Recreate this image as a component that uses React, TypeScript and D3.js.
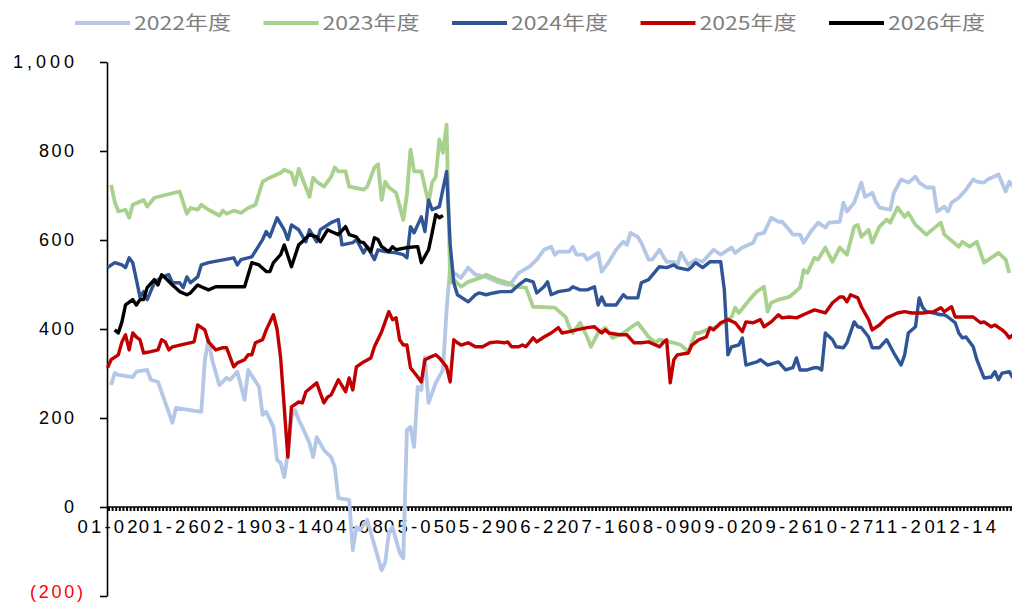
import { useEffect, useRef } from 'react'
import * as d3 from 'd3'

// x = trading-day index (0..251), label every 17 days
const N_DAYS = 252
const LABEL_STEP = 17
const xLabels = ['01-02', '01-26', '02-19', '03-14', '04-08', '05-05', '05-29', '06-22',
  '07-16', '08-09', '09-02', '09-26', '10-27', '11-20', '12-14']
const yTicks = [-200, 0, 200, 400, 600, 800, 1000]

const seriesNames = ['2022年度', '2023年度', '2024年度', '2025年度', '2026年度']
const seriesColors = ['#B4C7E7', '#A9D18E', '#2F5597', '#C00000', '#000000']

const s2022: [number, number][] = [
  [1, 274], [2, 301], [3, 297], [7, 292], [8, 304], [11, 308], [12, 286], [14, 281], [18, 189], [19, 223],
  [26, 214], [27, 331], [28, 376], [29, 331], [31, 274], [33, 290], [34, 286], [36, 304], [38, 241], [39, 308],
  [42, 270], [43, 207], [44, 214], [46, 180], [47, 106], [48, 99], [49, 67], [50, 121], [51, 202], [52, 218],
  [53, 196], [54, 180], [56, 144], [57, 112], [58, 157], [60, 128], [62, 112], [63, 90], [64, 20], [67, 16],
  [68, -97], [69, -45], [70, -52], [72, -29], [73, -58], [76, -142], [77, -124], [78, -58], [79, -45], [81, -103],
  [82, -115], [83, 173], [84, 180], [85, 135], [86, 270], [87, 263], [88, 337], [89, 234], [91, 279], [93, 308],
  [94, 443], [95, 540], [96, 526], [98, 515], [100, 538], [102, 522], [105, 517], [108, 506], [111, 499], [112, 504],
  [114, 526], [117, 540], [119, 556], [121, 578], [123, 585], [124, 567], [125, 574], [128, 574], [129, 585], [130, 567],
  [132, 567], [133, 556], [136, 571], [137, 529], [139, 551], [141, 578], [143, 596], [144, 589], [145, 616], [147, 607],
  [148, 594], [150, 556], [151, 556], [153, 578], [155, 551], [157, 551], [158, 544], [159, 571], [161, 544], [163, 556],
  [165, 551], [168, 578], [170, 567], [173, 583], [174, 571], [176, 583], [179, 594], [180, 612], [182, 616], [184, 650],
  [186, 641], [187, 641], [189, 623], [190, 612], [192, 612], [193, 594], [195, 619], [197, 639], [199, 628], [200, 639],
  [203, 641], [204, 684], [205, 664], [207, 684], [209, 729], [210, 697], [212, 706], [213, 686], [214, 673], [217, 668],
  [218, 706], [220, 736], [222, 729], [224, 742], [225, 729], [227, 718], [229, 718], [230, 664], [232, 675], [233, 664],
  [234, 684], [236, 695], [238, 713], [240, 736], [241, 731], [243, 729], [244, 736], [247, 747], [249, 709], [250, 731],
  [251, 720],
]

const s2023: [number, number][] = [
  [1, 724], [2, 686], [3, 664], [5, 668], [6, 650], [7, 679], [10, 690], [11, 675], [13, 695], [20, 709],
  [22, 659], [23, 672], [25, 668], [26, 679], [28, 668], [31, 655], [32, 666], [33, 659], [35, 666], [37, 661],
  [39, 672], [41, 679], [43, 731], [45, 740], [48, 751], [49, 758], [51, 751], [52, 724], [53, 760], [56, 697],
  [57, 740], [58, 731], [60, 720], [62, 742], [63, 763], [64, 754], [66, 754], [67, 720], [71, 713], [72, 720],
  [74, 763], [75, 770], [76, 690], [77, 731], [78, 718], [80, 706], [82, 645], [83, 702], [84, 803], [85, 754],
  [87, 754], [89, 684], [90, 729], [91, 742], [92, 826], [93, 796], [94, 859], [95, 504], [96, 511], [98, 495],
  [100, 506], [104, 517], [105, 522], [108, 511], [111, 504], [113, 495], [116, 493], [118, 450], [124, 448], [127, 427],
  [128, 405], [129, 391], [131, 414], [133, 382], [134, 360], [136, 391], [138, 403], [140, 380], [143, 391], [145, 403],
  [147, 414], [150, 382], [152, 369], [153, 376], [157, 369], [159, 364], [161, 349], [163, 391], [164, 391], [166, 398],
  [169, 405], [173, 427], [174, 448], [175, 436], [178, 466], [180, 484], [182, 495], [183, 439], [184, 459], [186, 466],
  [189, 472], [192, 493], [193, 533], [194, 526], [196, 560], [197, 556], [199, 583], [201, 551], [203, 583], [205, 567],
  [207, 630], [208, 634], [209, 607], [211, 623], [212, 594], [214, 630], [216, 646], [217, 639], [219, 673], [221, 652],
  [222, 661], [224, 634], [227, 612], [231, 639], [232, 612], [236, 585], [237, 596], [239, 585], [241, 596], [243, 549],
  [247, 571], [249, 556], [250, 526],
]

const s2024: [number, number][] = [
  [0, 538], [2, 549], [4, 544], [5, 538], [6, 560], [7, 549], [8, 511], [9, 472], [10, 484], [11, 466],
  [13, 504], [15, 517], [17, 522], [18, 504], [20, 504], [21, 493], [22, 517], [23, 504], [25, 517], [26, 544],
  [28, 549], [35, 560], [36, 544], [37, 556], [40, 562], [43, 601], [44, 619], [45, 607], [47, 650], [49, 623],
  [50, 601], [51, 634], [53, 623], [55, 596], [56, 623], [58, 596], [59, 623], [62, 639], [64, 646], [65, 589],
  [68, 594], [69, 601], [71, 571], [72, 585], [74, 556], [75, 578], [77, 574], [80, 571], [82, 567], [83, 560],
  [84, 630], [85, 616], [87, 652], [88, 619], [89, 690], [90, 668], [92, 675], [94, 754], [95, 590], [96, 504],
  [97, 477], [100, 461], [102, 477], [103, 481], [105, 477], [107, 481], [109, 484], [112, 484], [114, 499], [116, 511],
  [118, 506], [119, 481], [121, 495], [122, 506], [123, 477], [125, 484], [128, 488], [129, 495], [131, 488], [133, 488],
  [135, 495], [136, 454], [137, 472], [138, 454], [141, 454], [143, 477], [144, 470], [147, 470], [148, 504], [150, 511],
  [153, 540], [155, 538], [157, 544], [158, 538], [161, 533], [162, 540], [163, 549], [165, 538], [167, 551], [170, 551],
  [171, 488], [172, 342], [173, 360], [175, 364], [176, 380], [177, 319], [180, 326], [181, 331], [183, 319], [186, 326],
  [188, 308], [190, 313], [191, 335], [192, 308], [194, 308], [196, 313], [197, 313], [198, 308], [199, 391], [201, 376],
  [202, 360], [204, 358], [205, 369], [207, 416], [208, 405], [209, 403], [211, 382], [212, 358], [214, 358], [216, 376],
  [218, 346], [220, 319], [221, 342], [222, 391], [224, 405], [225, 470], [226, 448], [227, 439], [229, 436], [231, 432],
  [232, 432], [233, 427], [235, 414], [236, 391], [237, 380], [238, 382], [240, 360], [241, 331], [243, 290], [245, 292],
  [246, 304], [247, 286], [248, 301], [250, 304], [251, 290],
]

const s2025: [number, number][] = [
  [0, 313], [1, 331], [3, 342], [4, 371], [5, 387], [6, 353], [7, 391], [8, 382], [9, 376], [10, 346],
  [12, 349], [14, 353], [15, 376], [16, 371], [17, 353], [18, 360], [24, 371], [25, 409], [27, 398], [28, 371],
  [30, 353], [32, 358], [33, 358], [35, 315], [36, 324], [38, 331], [39, 342], [40, 342], [41, 369], [43, 376],
  [44, 398], [46, 432], [47, 400], [48, 335], [50, 112], [51, 225], [53, 236], [54, 234], [55, 259], [58, 279],
  [59, 256], [60, 234], [61, 247], [62, 252], [64, 286], [66, 259], [67, 290], [68, 263], [69, 315], [71, 326],
  [73, 335], [74, 360], [76, 394], [78, 439], [79, 421], [80, 425], [81, 376], [82, 364], [83, 364], [84, 313],
  [86, 292], [87, 281], [88, 331], [89, 335], [91, 342], [92, 335], [94, 315], [95, 281], [96, 376], [97, 369],
  [98, 364], [100, 369], [102, 360], [104, 360], [106, 369], [108, 371], [110, 369], [111, 371], [112, 360], [114, 360],
  [115, 364], [116, 360], [118, 380], [119, 371], [121, 382], [123, 391], [125, 403], [126, 391], [128, 394], [130, 398],
  [133, 403], [135, 405], [137, 391], [138, 398], [139, 391], [142, 387], [144, 387], [146, 369], [148, 369], [150, 371],
  [153, 360], [154, 369], [155, 376], [156, 279], [157, 331], [158, 342], [161, 346], [162, 364], [164, 376], [166, 382],
  [167, 403], [168, 398], [170, 414], [172, 421], [174, 414], [176, 394], [177, 416], [179, 414], [181, 421], [182, 405],
  [184, 416], [186, 432], [187, 425], [189, 427], [191, 425], [194, 436], [196, 443], [199, 436], [201, 459], [203, 472],
  [204, 472], [205, 461], [206, 477], [208, 470], [209, 450], [211, 421], [212, 398], [214, 409], [216, 425], [219, 436],
  [221, 439], [223, 436], [226, 436], [229, 439], [231, 448], [232, 439], [234, 450], [235, 427], [238, 427], [240, 427],
  [242, 414], [243, 416], [245, 405], [246, 409], [248, 398], [249, 391], [250, 380], [251, 387],
]

const s2026: [number, number][] = [
  [2, 398], [3, 391], [4, 416], [5, 454], [7, 466], [8, 454], [9, 466], [10, 466], [11, 493], [13, 511],
  [14, 499], [15, 522], [16, 515], [18, 499], [20, 484], [22, 477], [23, 481], [25, 499], [26, 495], [28, 488],
  [30, 495], [38, 495], [40, 549], [42, 544], [44, 529], [45, 529], [46, 549], [48, 567], [49, 589], [51, 540],
  [53, 589], [54, 596], [56, 612], [58, 607], [59, 596], [61, 623], [62, 619], [64, 612], [66, 630], [67, 612],
  [69, 607], [70, 596], [71, 594], [73, 574], [74, 605], [75, 601], [76, 585], [78, 574], [79, 585], [80, 578],
  [83, 583], [86, 585], [87, 549], [89, 578], [90, 616], [91, 657], [92, 650], [93, 655],
]

const allSeries = [s2022, s2023, s2024, s2025, s2026]

export default function App() {
  const svgRef = useRef<SVGSVGElement>(null)
  const width = 1012
  const height = 604

  useEffect(() => {
    const svg = d3.select(svgRef.current)
    svg.selectAll('*').remove()

    const x = d3.scaleLinear().domain([0, N_DAYS - 1]).range([107.5, 1012.9])
    const y = d3.scaleLinear().domain([-200, 1000]).range([596, 62])
    const axisX = 107

    // y axis
    const yAxis = svg.append('g')
      .attr('transform', `translate(${axisX},0)`)
      .call(d3.axisLeft(y).tickValues(yTicks).tickSize(7).tickSizeOuter(0)
        .tickFormat((d) => {
          const v = +d
          if (v < 0) return `(${-v})`
          return v >= 1000 ? '1,000' : String(v)
        }))
    yAxis.select('.domain').attr('stroke', '#000').attr('stroke-width', 1.6)
    yAxis.selectAll('.tick line').attr('stroke', '#000').attr('stroke-width', 1.6)
    yAxis.selectAll<SVGTextElement, number>('.tick text')
      .attr('font-family', '"Liberation Sans", Arial, sans-serif')
      .attr('font-size', 18)
      .attr('x', (d) => (d < 0 ? -24 : -33))
      .attr('dy', (d) => (d < 0 ? '0.1em' : '0.32em'))
      .attr('fill', (d) => (d < 0 ? '#FF0000' : '#000'))
      .each(function (d) {
        const t = d3.select(this)
        const len = d < 0 ? 53 : d >= 1000 ? 61 : d === 0 ? 11 : 35
        t.attr('textLength', len).attr('lengthAdjust', 'spacing')
      })

    // x axis at zero with a tick per day
    const y0 = y(0)
    const xg = svg.append('g')
    xg.selectAll('line.tick')
      .data(d3.range(N_DAYS))
      .join('line')
      .attr('x1', (d) => x(d) + 1.5).attr('x2', (d) => x(d) + 1.5)
      .attr('y1', y0).attr('y2', y0 + 4)
      .attr('stroke', '#000').attr('stroke-width', 2)
    xg.append('line')
      .attr('x1', axisX).attr('x2', width)
      .attr('y1', y0).attr('y2', y0)
      .attr('stroke', '#000').attr('stroke-width', 1.6)
    xg.selectAll('text')
      .data(xLabels)
      .join('text')
      .attr('x', (_, i) => x(i * LABEL_STEP))
      .attr('y', y0 + 26)
      .attr('text-anchor', 'middle')
      .attr('font-family', '"Liberation Sans", Arial, sans-serif')
      .attr('font-size', 18.5)
      .attr('textLength', 60)
      .attr('lengthAdjust', 'spacing')
      .attr('fill', '#000')
      .text((d) => d)

    // lines
    const line = d3.line<[number, number]>()
      .x((d) => x(d[0]))
      .y((d) => y(d[1]))

    allSeries.forEach((s, k) => {
      svg.append('path')
        .datum(s)
        .attr('fill', 'none')
        .attr('stroke', seriesColors[k])
        .attr('stroke-width', k < 2 ? 3.8 : 3.4)
        .attr('stroke-linejoin', 'round')
        .attr('d', line)
    })

    // legend
    const legend = svg.append('g')
    seriesNames.forEach((name, k) => {
      const lx = 75 + k * 188.5
      legend.append('line')
        .attr('x1', lx).attr('x2', lx + 55)
        .attr('y1', 23).attr('y2', 23)
        .attr('stroke', seriesColors[k])
        .attr('stroke-width', 4)
      legend.append('text')
        .attr('x', lx + 59).attr('y', 30)
        .attr('font-family', '"Noto Sans CJK SC", "Noto Sans", sans-serif')
        .attr('font-size', 19)
        .attr('textLength', 97)
        .attr('lengthAdjust', 'spacingAndGlyphs')
        .attr('fill', '#7F7F7F')
        .text(name)
    })
  }, [])

  return (
    <svg
      ref={svgRef}
      width={width}
      height={height}
      style={{ position: 'absolute', left: 0, top: 0, background: '#fff' }}
    />
  )
}
